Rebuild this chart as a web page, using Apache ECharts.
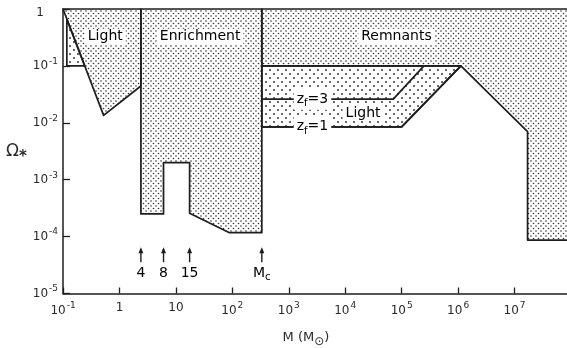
<!DOCTYPE html>
<html><head><meta charset="utf-8">
<script src="https://cdn.jsdelivr.net/npm/echarts@6/dist/echarts.min.js"></script>
<style>html,body{margin:0;padding:0;background:#fff}#c{width:567px;height:348px}</style>
</head><body><div id="c"></div>
<script>
// ---- data (mass M in solar masses, Omega_*) ----
const xTickExp = [-1, 0, 1, 2, 3, 4, 5, 6, 7];
const yTickExp = [-5, -4, -3, -2, -1, 0];
const lightLeft  = [[0.1, 1], [0.524, 0.0135], [2.4, 0.0443], [2.4, 1]];
const lightBox   = [[0.117, 0.665], [0.117, 0.1], [0.243, 0.1]];
const enrichment = [[2.4, 1], [333, 1], [333, 1.17e-4], [88.9, 1.17e-4], [17.5, 2.57e-4], [17.5, 2.0e-3], [6.04, 2.0e-3], [6.04, 2.5e-4], [2.4, 2.5e-4]];
const remnants   = [[333, 1], [1e8, 1], [1e8, 8.7e-5], [1.7e7, 8.7e-5], [1.7e7, 0.007], [1.12e6, 0.1], [333, 0.1]];
const lightBand  = [[333, 0.1], [1.12e6, 0.1], [1e5, 0.0085], [333, 0.0085]];
const zf3Line    = [[333, 0.026], [7.1e4, 0.026], [2.48e5, 0.1]];
const zf1Line    = [[333, 0.0085], [1e5, 0.0085], [1.12e6, 0.1]];
const arrowMasses = [2.4, 6.04, 17.5, 333];
const arrowLabels = ['4', '8', '15', 'Mc'];
const regionLabels = ['Light', 'Enrichment', 'Remnants', 'Light', 'zf=3', 'zf=1'];
const regionLabelAt = [[0.561, 0.326], [26.9, 0.326], [8.1e4, 0.326], [2.07e4, 0.0149], [2630, 0.026], [2630, 0.0085]];

const FONT = '"DejaVu Sans", sans-serif';
const INK = '#1e1e1e';
const TXT = '#2a2a2a';

function makePattern(w, h, dots, r, color) {
  const c = document.createElement('canvas');
  c.width = w; c.height = h;
  const g = c.getContext('2d');
  g.fillStyle = color;
  dots.forEach(d => { g.beginPath(); g.arc(d[0], d[1], r, 0, Math.PI * 2); g.fill(); });
  return { image: c, repeat: 'repeat' };
}
const fineDots = makePattern(5, 5, [[1, 1], [3.5, 3.5]], 0.8, '#333');
const coarseDots = makePattern(8, 8, [[2, 2], [6, 6]], 0.95, '#2a2a2a');

function polySeries(pts, fill, z) {
  return {
    type: 'custom', coordinateSystem: 'cartesian2d', silent: true, z: z,
    data: [pts[0]], encode: { x: 0, y: 1 },
    renderItem: (params, api) => ({
      type: 'polygon',
      shape: { points: pts.map(p => api.coord(p)) },
      style: { fill: fill, stroke: INK, lineWidth: 1.7, lineJoin: 'round' }
    })
  };
}
function lineSeries(pts, z) {
  return {
    type: 'custom', coordinateSystem: 'cartesian2d', silent: true, z: z,
    data: [pts[0]], encode: { x: 0, y: 1 },
    renderItem: (params, api) => ({
      type: 'polyline',
      shape: { points: pts.map(p => api.coord(p)) },
      style: { fill: null, stroke: INK, lineWidth: 1.7, lineJoin: 'round' }
    })
  };
}

const richTxt = {
  a: { fontSize: 14, fontFamily: FONT, color: TXT },
  sub: { fontSize: 10, fontFamily: FONT, color: TXT, padding: [9, 0, 0, 0] }
};
function labelText(s) {
  if (s === 'zf=3') return '{a|z}{sub|f}{a|=3}';
  if (s === 'zf=1') return '{a|z}{sub|f}{a|=1}';
  if (s === 'Mc') return '{a|M}{sub|c}';
  return '{a|' + s + '}';
}

const labelSeries = {
  type: 'custom', coordinateSystem: 'cartesian2d', silent: true, z: 20,
  data: regionLabelAt.map((p, i) => [p[0], p[1], i]), encode: { x: 0, y: 1 },
  renderItem: (params, api) => {
    const pt = api.coord([api.value(0), api.value(1)]);
    const s = regionLabels[api.value(2)];
    return {
      type: 'text', x: pt[0], y: pt[1],
      style: {
        text: labelText(s), rich: richTxt,
        align: 'center', verticalAlign: 'middle',
        backgroundColor: '#fff', padding: [1, 3, 1, 3]
      }
    };
  }
};

const arrowSeries = {
  type: 'custom', coordinateSystem: 'cartesian2d', silent: true, z: 20,
  data: arrowMasses.map((m, i) => [m, 6.5e-5, i]), encode: { x: 0, y: 1 },
  renderItem: (params, api) => {
    const pt = api.coord([api.value(0), api.value(1)]);
    const x = pt[0], y = pt[1];
    return {
      type: 'group',
      children: [
        { type: 'line', shape: { x1: x, y1: y + 2, x2: x, y2: y + 15 }, style: { stroke: INK, lineWidth: 1.4 } },
        { type: 'polygon', shape: { points: [[x, y], [x - 2.5, y + 6], [x + 2.5, y + 6]] }, style: { fill: INK } },
        { type: 'text', x: x, y: y + 26, style: { text: labelText(arrowLabels[api.value(2)]), rich: richTxt, align: 'center', verticalAlign: 'middle' } }
      ]
    };
  }
};

function expLabel(e, isY) {
  if (isY && e === 0) return '{one|1}';
  if (e === 0) return '{b|1}';
  if (e === 1) return '{b|10}';
  return '{b|10}{s|' + (e < 0 ? '-' : '') + Math.abs(e) + '}';
}
const axisRich = {
  b: { fontSize: 12, fontFamily: FONT, color: TXT },
  one: { fontSize: 12, fontFamily: FONT, color: TXT, padding: [8, 14, 0, 0] },
  s: { fontSize: 9, fontFamily: FONT, color: TXT, padding: [0, 0, 9, 1] }
};

const chart = echarts.init(document.getElementById('c'), null, { renderer: 'canvas' });
chart.setOption({
  animation: false,
  backgroundColor: '#fff',
  grid: { left: 63, top: 9, right: -4, bottom: 54.5, containLabel: false, outerBoundsMode: 'none' },
  xAxis: {
    type: 'log', logBase: 10, min: 0.1, max: 1e8,
    axisLine: { show: true, lineStyle: { color: INK, width: 1.5 } },
    axisTick: { show: true, inside: true, length: 6, lineStyle: { color: INK, width: 1.3 } },
    splitLine: { show: false }, minorTick: { show: false },
    axisLabel: {
      margin: 8, rich: axisRich,
      formatter: v => {
        const e = Math.round(Math.log10(v));
        return xTickExp.indexOf(e) >= 0 ? expLabel(e, false) : '';
      }
    },
    name: '{a|M (M}{sub|⊙}{a|)}',
    nameLocation: 'middle', nameGap: 34,
    nameTextStyle: { rich: { a: { fontSize: 13, fontFamily: FONT, color: TXT }, sub: { fontSize: 12, fontFamily: FONT, color: TXT, padding: [8, 0, 0, 0] } }, padding: [0, 22, 0, 0] }
  },
  yAxis: {
    type: 'log', logBase: 10, min: 1e-5, max: 1,
    axisLine: { show: true, lineStyle: { color: INK, width: 1.5 } },
    axisTick: { show: true, inside: true, length: 7, lineStyle: { color: INK, width: 1.3 } },
    splitLine: { show: false }, minorTick: { show: false },
    axisLabel: {
      margin: 5, rich: axisRich,
      formatter: v => {
        const e = Math.round(Math.log10(v));
        return yTickExp.indexOf(e) >= 0 ? expLabel(e, true) : '';
      }
    },
    name: '{o|Ω}{s|*}',
    nameLocation: 'middle', nameRotate: 0, nameGap: 32,
    nameTextStyle: { rich: { o: { fontSize: 17, fontFamily: FONT, color: TXT }, s: { fontSize: 15, fontWeight: 'bold', fontFamily: FONT, color: TXT, padding: [12, 0, 0, 0] } } }
  },
  series: [
    polySeries(lightLeft, fineDots, 2),
    polySeries(enrichment, fineDots, 2),
    polySeries(remnants, fineDots, 2),
    polySeries(lightBand, coarseDots, 2),
    polySeries(lightBox, coarseDots, 3),
    lineSeries(zf3Line, 4),
    lineSeries(zf1Line, 4),
    labelSeries,
    arrowSeries
  ]
});
</script>
</body></html>
